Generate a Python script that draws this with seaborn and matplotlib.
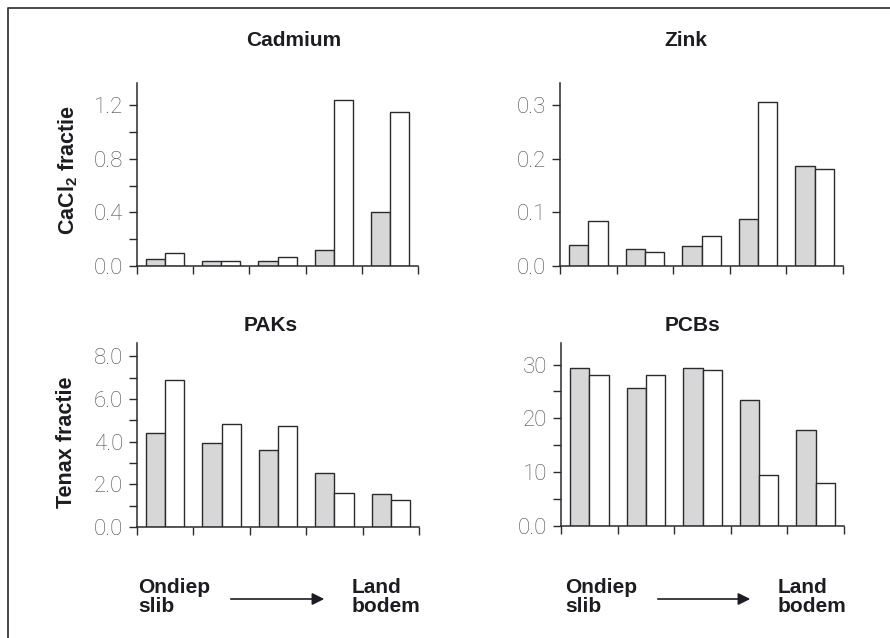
import pandas as pd
import matplotlib.pyplot as plt
import seaborn as sns
from matplotlib.ticker import MultipleLocator, FixedLocator, FuncFormatter
from matplotlib.lines import Line2D
from matplotlib.patches import FancyArrowPatch

# --- data ---
stappen = ['1', '2', '3', '4', '5']   # van ondiep slib naar landbodem
series = ['grijs', 'wit']

cadmium_grijs = [0.05, 0.035, 0.035, 0.12, 0.40]
cadmium_wit = [0.10, 0.035, 0.07, 1.24, 1.15]
zink_grijs = [0.040, 0.031, 0.038, 0.088, 0.186]
zink_wit = [0.084, 0.027, 0.057, 0.306, 0.181]
paks_grijs = [4.42, 3.96, 3.63, 2.53, 1.56]
paks_wit = [6.88, 4.85, 4.74, 1.59, 1.28]
pcbs_grijs = [29.4, 25.7, 29.4, 23.4, 17.9]
pcbs_wit = [28.1, 28.0, 28.9, 9.4, 8.0]

titels = ['Cadmium', 'Zink', 'PAKs', 'PCBs']
ylabels = [r'CaCl$_{2}$ fractie', 'Tenax fractie']

W, H = 890, 638

sns.set_theme(style='ticks')
plt.rcParams['font.family'] = ['Liberation Sans', 'DejaVu Sans']
plt.rcParams['mathtext.fontset'] = 'custom'
plt.rcParams['mathtext.rm'] = 'Liberation Sans:bold'
plt.rcParams['mathtext.it'] = 'Liberation Sans:bold'
plt.rcParams['mathtext.bf'] = 'Liberation Sans:bold'

DONKER = '#2b2a30'
GRIJS = '#d7d7d7'
TEKST = '#1e1c22'


def rect(x0, y0, x1, y1):
    return [x0 / W, 1 - y1 / H, (x1 - x0) / W, (y1 - y0) / H]


def fmt_een(v, pos):
    return f'{v:.1f}'


def fmt_pcb(v, pos):
    return '0.0' if v == 0 else f'{v:.0f}'


# titel, grijs, wit, asvak (px), ymax, major, minor, formatter, titelpositie (px)
panelen = [
    ('Cadmium', cadmium_grijs, cadmium_wit, (137, 83, 418, 266), 1.364, 0.4, 0.2, fmt_een, (294, 40)),
    ('Zink', zink_grijs, zink_wit, (560, 83, 843, 266), 0.342, 0.1, None, fmt_een, (686, 40)),
    ('PAKs', paks_grijs, paks_wit, (137, 343, 419, 527), 8.63, 2.0, 1.0, fmt_een, (271, 325)),
    ('PCBs', pcbs_grijs, pcbs_wit, (561, 343, 844, 526), 34.0, 10.0, 5.0, fmt_pcb, (692, 325)),
]

fig = plt.figure(figsize=(W / 100, H / 100), dpi=100)

for titel, grijs, wit, box, ymax, major, minor, fmt, tpos in panelen:
    df = pd.DataFrame({
        'stap': stappen * 2,
        'serie': [series[0]] * 5 + [series[1]] * 5,
        'waarde': grijs + wit,
    })
    ax = fig.add_axes(rect(*box))
    sns.barplot(data=df, x='stap', y='waarde', hue='serie', ax=ax,
                palette={'grijs': GRIJS, 'wit': 'white'}, width=0.68,
                edgecolor=DONKER, linewidth=1.0, legend=False)
    ax.set_xlim(-0.5, 4.5)
    ax.set_ylim(0, ymax)
    ax.xaxis.set_major_locator(FixedLocator([i - 0.5 for i in range(6)]))
    ax.yaxis.set_major_locator(MultipleLocator(major))
    if minor:
        ax.yaxis.set_minor_locator(MultipleLocator(minor))
    ax.yaxis.set_major_formatter(FuncFormatter(fmt))
    ax.set_xlabel('')
    ax.set_ylabel('')
    sns.despine(ax=ax)
    for s in ['left', 'bottom']:
        ax.spines[s].set_linewidth(1.1)
        ax.spines[s].set_color(DONKER)
    ax.tick_params(axis='x', labelbottom=False, length=6, width=1.0, color=DONKER, direction='out')
    ax.tick_params(axis='y', which='both', length=6, width=1.0, color=DONKER, direction='out',
                   labelsize=16, labelcolor='#4e4c53', pad=4.0)
    plt.setp(ax.get_yticklabels(), family=['Roboto', 'DejaVu Sans'], fontweight='light')
    fig.text(tpos[0] / W, 1 - tpos[1] / H, titel, ha='center', va='center',
             fontsize=15, fontweight='bold', color=TEKST)

# y-as titels
fig.text(68 / W, 1 - 170 / H, ylabels[0], rotation=90, ha='center', va='center',
         fontsize=15.5, fontweight='bold', color=TEKST)
fig.text(67 / W, 1 - 442 / H, ylabels[1], rotation=90, ha='center', va='center',
         fontsize=15.5, fontweight='bold', color=TEKST)

# gradiënt onderaan: ondiep slib -> land bodem
for x_links, x_pijl0, x_pijl1, x_rechts in [(138, 228, 327, 352), (565, 655, 753, 778)]:
    fig.text(x_links / W, 1 - 593 / H, 'Ondiep', ha='left', va='baseline',
             fontsize=15, fontweight='bold', color=TEKST)
    fig.text(x_links / W, 1 - 612 / H, 'slib', ha='left', va='baseline',
             fontsize=15, fontweight='bold', color=TEKST)
    fig.text(x_rechts / W, 1 - 593 / H, 'Land', ha='left', va='baseline',
             fontsize=15, fontweight='bold', color=TEKST)
    fig.text(x_rechts / W, 1 - 612 / H, 'bodem', ha='left', va='baseline',
             fontsize=15, fontweight='bold', color=TEKST)
    pijl = FancyArrowPatch((x_pijl0 / W, 1 - 599 / H), (x_pijl1 / W, 1 - 599 / H),
                           transform=fig.transFigure, arrowstyle='-|>', mutation_scale=18,
                           lw=1.2, color=TEKST)
    fig.add_artist(pijl)

# kader links en boven
fig.add_artist(Line2D([8 / W, 8 / W, 1], [0, 1 - 8 / H, 1 - 8 / H],
                      transform=fig.transFigure, color='#3a3a3a', lw=1.3))

plt.savefig('out.png', dpi=100)
plt.close()
print("✓ out.png")
